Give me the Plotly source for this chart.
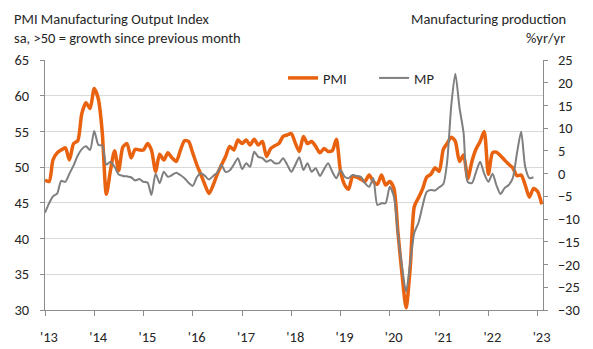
import pandas as pd
import plotly.graph_objects as go

# ---- data (monthly, Jan 2013 onward) ----
pmi = [48.2, 48.0, 51.0, 52.0, 52.4, 52.7, 51.0, 53.3, 53.7, 57.5, 59.0, 58.2,
       61.0, 59.5, 55.0, 46.2, 49.5, 52.3, 49.5, 52.8, 53.3, 51.3, 52.5, 52.4,
       52.4, 53.3, 52.4, 49.4, 51.8, 51.0, 52.0, 51.3, 50.8, 52.3, 53.7, 53.6,
       52.0, 50.3, 49.0, 47.5, 46.3, 47.5, 49.0, 50.3, 51.5, 52.9, 52.4, 53.8,
       53.3, 53.8, 53.1, 53.9, 53.1, 53.6, 51.5, 52.6, 53.0, 53.3, 54.3, 54.5,
       54.7, 53.3, 52.2, 54.3, 53.3, 53.6, 52.9, 52.0, 52.6, 52.2, 52.3, 53.9,
       49.4, 47.5, 46.9, 48.7, 48.6, 48.3, 48.0, 48.9, 48.0, 47.6, 48.9, 47.5,
       48.0, 47.0, 41.0, 35.0, 30.3, 36.0, 44.5, 45.7, 47.0, 48.6, 49.0, 49.9,
       49.4, 52.5, 53.3, 54.2, 53.6, 50.8, 51.7, 48.4, 50.8, 52.5, 53.6, 55.0,
       49.0, 52.0, 52.1, 51.6, 51.0, 50.4, 49.9, 48.8, 48.9, 47.5, 45.8, 47.0,
       46.6, 44.8]

mp = [-8.6, -6.5, -5.0, -4.4, -1.6, -1.8, 0.0, 1.8, 4.0, 5.4, 6.0, 5.2,
      9.4, 6.3, 6.2, 2.0, 2.6, 1.5, -0.2, -0.5, -0.6, -0.8, -1.5, -1.2,
      -1.8, -2.0, -4.7, 0.0, -2.1, 0.4, -0.7, -0.3, 0.2, -0.3, -1.0, -2.0,
      -2.7, -0.8, 0.1, -0.5, -1.3, -0.5, 0.2, 1.9, 0.4, 0.7, 2.0, 3.4,
      1.0, 2.3, 1.5, 4.8, 3.7, 3.4, 2.6, 3.0, 2.3, 2.3, 3.4, 2.0,
      0.4, 2.0, 3.6, 0.8, 2.3, 0.4, 1.2, -0.5, 1.0, 2.3, 0.4, -1.0,
      0.8, -0.7, -1.0, -0.3, -0.5, -0.7, -2.1, -2.9, -1.0, -6.9, -6.5, -6.5,
      -2.9, -5.1, -13.1, -20.5, -26.0, -19.5, -13.0, -10.8, -7.0, -4.0, -3.6, -3.7,
      -3.0, -2.3, 2.5, 15.0, 22.0, 14.5, 9.0, -1.8, -2.1, 0.3, 2.6, 0.0,
      -1.8, 0.0, -2.5, -4.5, -3.2, -2.5, -1.0, 4.5, 9.2, 1.5, -1.0, -0.8]

pmi_dates = pd.date_range("2013-01-01", periods=len(pmi), freq="MS")
mp_dates = pd.date_range("2013-01-01", periods=len(mp), freq="MS")

year_ticks = pd.date_range("2013-01-01", "2023-01-01", freq="YS")
year_labels = ["'13", "'14", "'15", "'16", "'17", "'18", "'19", "'20", "'21", "'22", "'23"]

left_ticks = [30, 35, 40, 45, 50, 55, 60, 65]
right_ticks = [-30, -25, -20, -15, -10, -5, 0, 5, 10, 15, 20, 25]

FONT = "Calibri, Carlito, Lato, sans-serif"
TXT = "#262626"
AX = "#8c8c8c"

fig = go.Figure()
fig.add_trace(go.Scatter(x=mp_dates, y=mp, name="MP", yaxis="y2", mode="lines",
                         line=dict(color="#7f7f7f", width=2, shape="spline", smoothing=0.7)))
fig.add_trace(go.Scatter(x=pmi_dates, y=pmi, name="PMI", mode="lines",
                         line=dict(color="#E8620F", width=3.5, shape="spline", smoothing=0.7)))

fig.update_layout(
    width=593, height=349,
    margin=dict(l=45, r=50, t=60, b=39, autoexpand=False),
    paper_bgcolor="white", plot_bgcolor="white",
    font=dict(family=FONT, size=14.5, color=TXT),
    showlegend=True,
    legend=dict(orientation="h", x=0.478, y=0.928, xanchor="left", yanchor="middle",
                traceorder="reversed", entrywidth=46, bgcolor="rgba(0,0,0,0)",
                font=dict(size=14.5, color=TXT)),
    xaxis=dict(type="date", range=["2013-01-01", "2023-02-10"],
               tickvals=year_ticks, ticktext=year_labels, automargin=False,
               ticks="outside", ticklen=5, tickcolor=AX,
               showline=True, linecolor=AX, linewidth=1,
               showgrid=False, zeroline=False, ticklabelshift=4,
               ticklabelstandoff=9),
    yaxis=dict(range=[30, 65], tickvals=left_ticks, ticks="outside", ticklen=4,
               tickcolor=AX, showline=True, linecolor=AX, linewidth=1, automargin=False,
               showgrid=True, gridcolor="#d9d9d9", gridwidth=1, zeroline=False,
               ticklabelstandoff=8),
    yaxis2=dict(range=[-30, 25], tickvals=right_ticks, overlaying="y", side="right",
                ticks="outside", ticklen=4, tickcolor=AX, showline=True, automargin=False,
                linecolor=AX, linewidth=1, showgrid=False, zeroline=False,
                ticklabelstandoff=7),
)

ann = dict(xref="paper", yref="paper", showarrow=False, yanchor="middle",
           font=dict(family=FONT, size=14.5, color=TXT))
fig.add_annotation(text="PMI Manufacturing Output Index", x=-0.0663, y=1.164, xanchor="left", **ann)
fig.add_annotation(text="sa, >50 = growth since previous month", x=-0.0663, y=1.088, xanchor="left", **ann)
fig.add_annotation(text="Manufacturing production", x=1.05, y=1.164, xanchor="right", **ann)
fig.add_annotation(text="%yr/yr", x=1.048, y=1.088, xanchor="right", **ann)

fig.write_html("out.html")
